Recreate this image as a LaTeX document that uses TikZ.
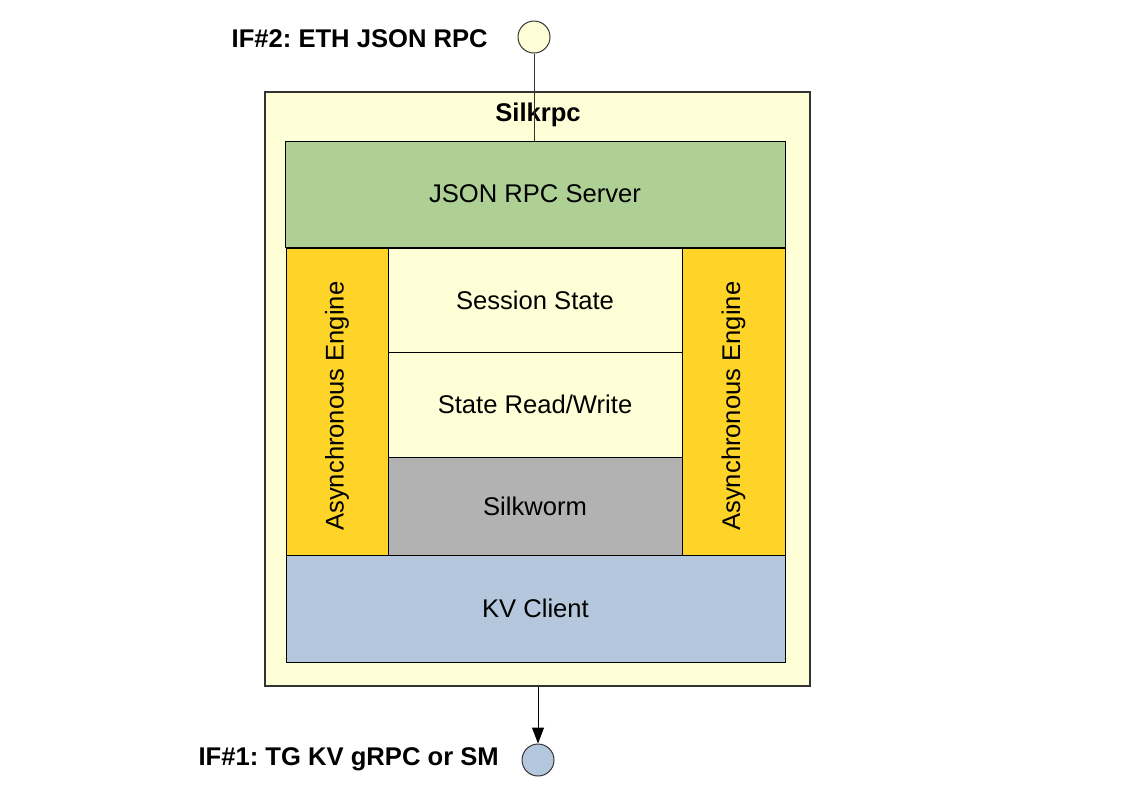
\documentclass[tikz,border=0pt]{standalone}
\usepackage{fontspec}
\setmainfont{Liberation Sans}
\usetikzlibrary{fit,arrows.meta}
\frenchspacing
\definecolor{lyellow}{HTML}{FFFFD7}
\definecolor{lgreen}{HTML}{AFD095}
\definecolor{gold}{HTML}{FFD428}
\definecolor{mgray}{HTML}{B2B2B2}
\definecolor{lblue}{HTML}{B4C7DC}
\definecolor{frame}{HTML}{333333}
\tikzset{
  blk/.style={draw=black, line width=0.75pt, inner sep=0pt},
  outerbox/.style={draw=frame, line width=1.6pt, fill=lyellow, inner sep=0pt},
  txt/.style={font=\fontsize{19.2}{23}\selectfont, inner sep=0pt},
  btxt/.style={font=\fontsize{19.2}{23}\selectfont\bfseries, inner sep=0pt},
  port/.style={circle, draw=frame, line width=0.75pt, minimum size=24pt, inner sep=0pt},
}
\begin{document}
\begin{tikzpicture}[x=0.75pt, y=-0.75pt]
\useasboundingbox (0,0) rectangle (1123,794);
% outer component
\node[outerbox, fit={(265,92) (810,686)}] (silk) {};
\node[btxt] (title) at (538,115) {Silkrpc};
% inner blocks
\node[blk, fill=lgreen, fit={(285,141) (785,247)}] (json) {};
\node[txt] (jsont) at (json.center) {JSON RPC Server};
\node[blk, fill=gold, fit={(286,248) (388,555)}] (aeL) {};
\node[txt, rotate=90] (aeLt) at ([yshift=-3.5pt]aeL.center) {Asynchronous Engine};
\node[blk, fill=gold, fit={(682,248) (785,555)}] (aeR) {};
\node[txt, rotate=90] (aeRt) at ([yshift=-3.5pt]aeR.center) {Asynchronous Engine};
\node[blk, fill=lyellow, fit={(388,248) (682,352)}] (sess) {};
\node[txt] (sesst) at (sess.center) {Session State};
\node[blk, fill=lyellow, fit={(388,352) (682,457)}] (rw) {};
\node[txt] (rwt) at (rw.center) {State Read/Write};
\node[blk, fill=mgray, fit={(388,457) (682,555)}] (worm) {};
\node[txt] (wormt) at (worm.center) {Silkworm};
\node[blk, fill=lblue, fit={(286,555) (785,662)}] (kv) {};
\node[txt] (kvt) at (kv.center) {KV Client};
% interfaces
\node[port, fill=lyellow] (if2) at (534,37) {};
\node[btxt, anchor=east] (if2t) at (488,39) {IF\#2: ETH JSON RPC};
\node[port, fill=lblue] (if1) at (538,760) {};
\node[btxt, anchor=east] (if1t) at (499,759) {IF\#1: TG KV gRPC or SM};
% connectors
\draw[line width=0.75pt, draw=frame] (if2.south) -- (if2.south |- json.north);
\draw[line width=0.75pt, -{Triangle[width=9pt,length=12pt]}] (if1.north |- silk.south) -- (if1.north);
\end{tikzpicture}
\end{document}
